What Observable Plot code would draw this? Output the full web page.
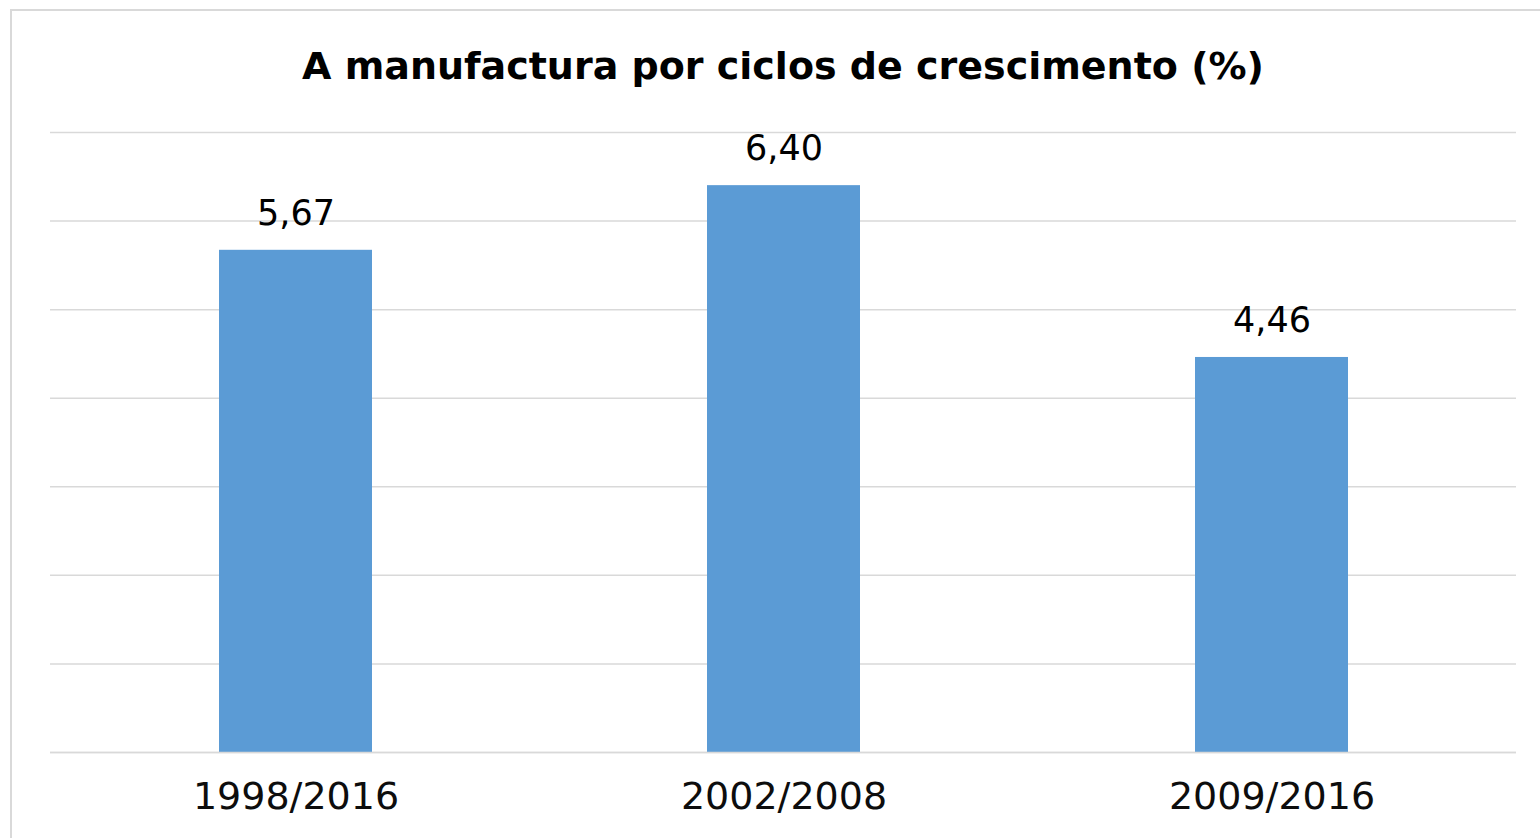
<!DOCTYPE html>
<html>
<head>
<meta charset="utf-8">
<script src="https://cdn.jsdelivr.net/npm/d3@7"></script>
<script src="https://cdn.jsdelivr.net/npm/@observablehq/plot@0.6"></script>
<style>
  html, body { margin: 0; padding: 0; background: #fff; overflow: hidden; width: 1540px; height: 838px; }
  #frame { position: absolute; left: 10px; top: 9px; width: 1560px; height: 860px; border: 2px solid #d9d9d9; box-sizing: border-box; }
  #title { position: absolute; left: 50px; width: 1466px; top: 40px; text-align: center; font-family: "DejaVu Sans", sans-serif; font-weight: bold; font-size: 38px; color: #000; line-height: 52px; margin: 0; }
  #chart { position: absolute; left: 0; top: 0; }
</style>
</head>
<body>
<div id="frame"></div>
<h1 id="title">A manufactura por ciclos de crescimento (%)</h1>
<div id="chart"></div>
<script>
const categories = ["1998/2016", "2002/2008", "2009/2016"];
const values = [5.67, 6.40, 4.46];
const yTicks = [0, 1, 2, 3, 4, 5, 6, 7];

const data = categories.map((c, i) => ({ category: c, value: values[i] }));
const fmt = v => v.toFixed(2).replace(".", ",");

const chart = Plot.plot({
  width: 1540,
  height: 838,
  marginLeft: 50,
  marginRight: 24,
  marginTop: 132,
  marginBottom: 86,
  style: { fontFamily: "DejaVu Sans, sans-serif", background: "transparent", color: "#000" },
  x: { domain: categories, paddingInner: 0.687, paddingOuter: 0.3435, label: null },
  y: { domain: [0, 7], label: null },
  marks: [
    Plot.gridY(yTicks, { stroke: "#d9d9d9", strokeOpacity: 1, strokeWidth: 1.5 }),
    Plot.barY(data, { x: "category", y: "value", fill: "#5b9bd5" }),
    Plot.ruleY([0], { stroke: "#d9d9d9", strokeWidth: 1.5 }),
    Plot.text(data, { x: "category", y: "value", text: d => fmt(d.value), dy: -37, fontSize: 35, fill: "#000" }),
    Plot.axisX({ tickSize: 0, tickPadding: 30, fontSize: 38, label: null, fill: "#0d0d0d" }),
    Plot.axisY({ ticks: [], label: null })
  ]
});
document.getElementById("chart").appendChild(chart);
</script>
</body>
</html>
